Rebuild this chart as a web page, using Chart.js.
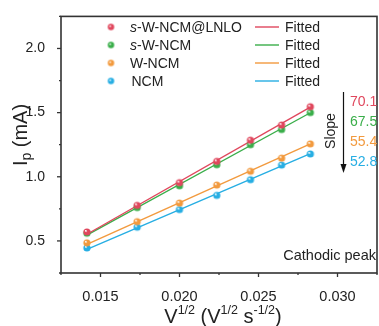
<!DOCTYPE html>
<html>
<head>
<meta charset="utf-8">
<script src="https://cdn.jsdelivr.net/npm/chart.js@4/dist/chart.umd.min.js"></script>
<style>
  html, body { margin: 0; padding: 0; background: #fff; overflow: hidden; }
  #wrap { width: 384px; height: 326px; }
</style>
</head>
<body>
<div id="wrap"><canvas id="peakChart" width="384" height="326"></canvas></div>
<script>
// Cathodic peak current vs square root of scan rate

const sqrtScanRate = [0.01414, 0.01732, 0.02000, 0.02236, 0.02449, 0.02646, 0.02828];
const sampleNames = ['s-W-NCM@LNLO', 's-W-NCM', 'W-NCM', 'NCM'];
const peakLnlo = [0.570, 0.777, 0.954, 1.120, 1.285, 1.403, 1.546];
const peakSwNcm = [0.560, 0.760, 0.930, 1.094, 1.250, 1.368, 1.500];
const peakWNcm = [0.485, 0.650, 0.795, 0.935, 1.043, 1.145, 1.256];
const peakNcm = [0.445, 0.607, 0.744, 0.855, 0.977, 1.091, 1.178];
const slopes = [70.1, 67.5, 55.4, 52.8];
const colors = ['#e0475d', '#3aae4a', '#f29a3e', '#27aee3'];

const FONT = '"Liberation Sans", Arial, sans-serif';
const INK = '#222';
const series = [peakLnlo, peakSwNcm, peakWNcm, peakNcm];

// shaded ball marker
function ballMarker(color, r) {
  const c = document.createElement('canvas');
  const s = Math.ceil(r * 2 + 2);
  c.width = s; c.height = s;
  const g = c.getContext('2d');
  const cx = s / 2, cy = s / 2;
  const grad = g.createRadialGradient(cx - r * 0.35, cy - r * 0.35, 0.3, cx, cy, r);
  grad.addColorStop(0, '#ffffff');
  grad.addColorStop(0.35, color);
  grad.addColorStop(1, color);
  g.fillStyle = grad;
  g.beginPath();
  g.arc(cx, cy, r, 0, Math.PI * 2);
  g.fill();
  return c;
}
const markers = colors.map(c => ballMarker(c, 3.6));
const legendMarkers = colors.map(c => ballMarker(c, 3.2));

// straight fit line through the mean point with the stated slope
function fitLine(ys, slope) {
  const n = sqrtScanRate.length;
  const mx = sqrtScanRate.reduce((a, b) => a + b, 0) / n;
  const my = ys.reduce((a, b) => a + b, 0) / n;
  const b = my - slope * mx;
  const x0 = sqrtScanRate[0], x1 = sqrtScanRate[n - 1];
  return [{ x: x0, y: slope * x0 + b }, { x: x1, y: slope * x1 + b }];
}

const datasets = [];
series.forEach((ys, i) => {
  datasets.push({
    type: 'line',
    label: 'Fitted',
    data: fitLine(ys, slopes[i]),
    borderColor: colors[i],
    borderWidth: 1.4,
    pointRadius: 0,
    order: 2,
  });
  datasets.push({
    type: 'scatter',
    label: sampleNames[i],
    data: ys.map((y, k) => ({ x: sqrtScanRate[k], y })),
    pointStyle: markers[i],
    pointRadius: 3.6,
    order: 1,
  });
});

function isMultiple(v, step) {
  const q = v / step;
  return Math.abs(q - Math.round(q)) < 1e-6;
}

// text runs with sub/superscripts
function drawRuns(ctx, runs, x, y, align) {
  let w = 0;
  runs.forEach(r => {
    ctx.font = (r.italic ? 'italic ' : '') + r.size + 'px ' + FONT;
    r.w = ctx.measureText(r.t).width;
    w += r.w;
  });
  let cx = align === 'center' ? x - w / 2 : x;
  ctx.textAlign = 'left';
  ctx.textBaseline = 'alphabetic';
  runs.forEach(r => {
    ctx.font = (r.italic ? 'italic ' : '') + r.size + 'px ' + FONT;
    ctx.fillText(r.t, cx, y + (r.dy || 0));
    cx += r.w;
  });
}

const decorations = {
  id: 'decorations',
  afterDraw(chart) {
    const { ctx, chartArea: a, scales } = chart;
    ctx.save();
    ctx.strokeStyle = '#333';
    ctx.fillStyle = INK;

    // frame
    ctx.lineWidth = 1.6;
    ctx.strokeRect(a.left, a.top, a.right - a.left, a.bottom - a.top);

    // tick marks
    ctx.lineWidth = 1.3;
    scales.x.ticks.forEach(t => {
      const px = scales.x.getPixelForValue(t.value);
      const len = isMultiple(t.value, 0.005) ? 4 : 2;
      ctx.beginPath();
      ctx.moveTo(px, a.bottom);
      ctx.lineTo(px, a.bottom + len);
      ctx.stroke();
    });
    scales.y.ticks.forEach(t => {
      const py = scales.y.getPixelForValue(t.value);
      const len = isMultiple(t.value, 0.5) ? 4 : 2;
      ctx.beginPath();
      ctx.moveTo(a.left, py);
      ctx.lineTo(a.left - len, py);
      ctx.stroke();
    });

    // legend
    const rows = [27, 45, 63, 81];
    rows.forEach((ry, i) => {
      const m = legendMarkers[i];
      ctx.drawImage(m, 111 - m.width / 2, ry - m.height / 2);
      ctx.fillStyle = INK;
      const name = sampleNames[i];
      const runs = name.startsWith('s-')
        ? [{ t: 's', size: 14, italic: true }, { t: name.slice(1), size: 14 }]
        : [{ t: name, size: 14 }];
      drawRuns(ctx, runs, name === 'NCM' ? 131.5 : 130, ry + 5, 'left');
      ctx.strokeStyle = colors[i];
      ctx.lineWidth = 1.4;
      ctx.beginPath();
      ctx.moveTo(255, ry);
      ctx.lineTo(279, ry);
      ctx.stroke();
      ctx.fillStyle = INK;
      drawRuns(ctx, [{ t: 'Fitted', size: 14 }], 285, ry + 5, 'left');
    });

    // slope annotation
    ctx.strokeStyle = '#111';
    ctx.fillStyle = '#111';
    ctx.lineWidth = 1.2;
    ctx.beginPath();
    ctx.moveTo(343.5, 92);
    ctx.lineTo(343.5, 166);
    ctx.stroke();
    ctx.beginPath();
    ctx.moveTo(340.5, 164);
    ctx.lineTo(346.5, 164);
    ctx.lineTo(343.5, 173);
    ctx.closePath();
    ctx.fill();

    ctx.save();
    ctx.translate(335, 131);
    ctx.rotate(-Math.PI / 2);
    ctx.font = '14px ' + FONT;
    ctx.textAlign = 'center';
    ctx.textBaseline = 'alphabetic';
    ctx.fillStyle = INK;
    ctx.fillText('Slope', 0, 0);
    ctx.restore();

    ctx.font = '14px ' + FONT;
    ctx.textAlign = 'left';
    ctx.textBaseline = 'middle';
    slopes.forEach((s, i) => {
      ctx.fillStyle = colors[i];
      ctx.fillText(s.toFixed(1), 350, 102 + i * 20);
    });

    // panel note
    ctx.fillStyle = INK;
    ctx.font = '14.5px ' + FONT;
    ctx.textAlign = 'right';
    ctx.textBaseline = 'middle';
    ctx.fillText('Cathodic peak', 376, 256);

    // axis titles
    drawRuns(ctx, [
      { t: 'V', size: 20 }, { t: '1/2', size: 12.5, dy: -9 },
      { t: ' (V', size: 20 }, { t: '1/2', size: 12.5, dy: -9 },
      { t: ' s', size: 20 }, { t: '-1/2', size: 12.5, dy: -9 },
      { t: ')', size: 20 },
    ], 223, 323, 'center');

    ctx.save();
    ctx.translate(27, 135);
    ctx.rotate(-Math.PI / 2);
    drawRuns(ctx, [
      { t: 'I', size: 20 }, { t: 'p', size: 14, dy: 4 }, { t: ' (mA)', size: 20 },
    ], 0, 0, 'center');
    ctx.restore();

    ctx.restore();
  },
};

const tickFont = { family: FONT, size: 14 };

new Chart(document.getElementById('peakChart'), {
  data: { datasets },
  options: {
    responsive: false,
    devicePixelRatio: 1,
    animation: false,
    layout: { padding: { top: 13, right: 1, left: 0, bottom: 0 } },
    plugins: { legend: { display: false }, tooltip: { enabled: false } },
    scales: {
      x: {
        type: 'linear',
        min: 0.0125,
        max: 0.0325,
        grid: { display: false },
        border: { display: false },
        ticks: {
          stepSize: 0.0025,
          autoSkip: false,
          maxRotation: 0,
          padding: 7,
          color: INK,
          font: { family: FONT, size: 14.5 },
          callback: v => (isMultiple(v, 0.005) ? v.toFixed(3) : ''),
        },
        afterFit(s) { s.height = 53; },
      },
      y: {
        type: 'linear',
        min: 0.25,
        max: 2.25,
        grid: { display: false },
        border: { display: false },
        ticks: {
          stepSize: 0.25,
          autoSkip: false,
          padding: 8,
          color: INK,
          font: tickFont,
          callback: v => (isMultiple(v, 0.5) ? v.toFixed(1) : ''),
        },
        afterFit(s) { s.width = 61; },
      },
    },
  },
  plugins: [decorations],
});
</script>
</body>
</html>
